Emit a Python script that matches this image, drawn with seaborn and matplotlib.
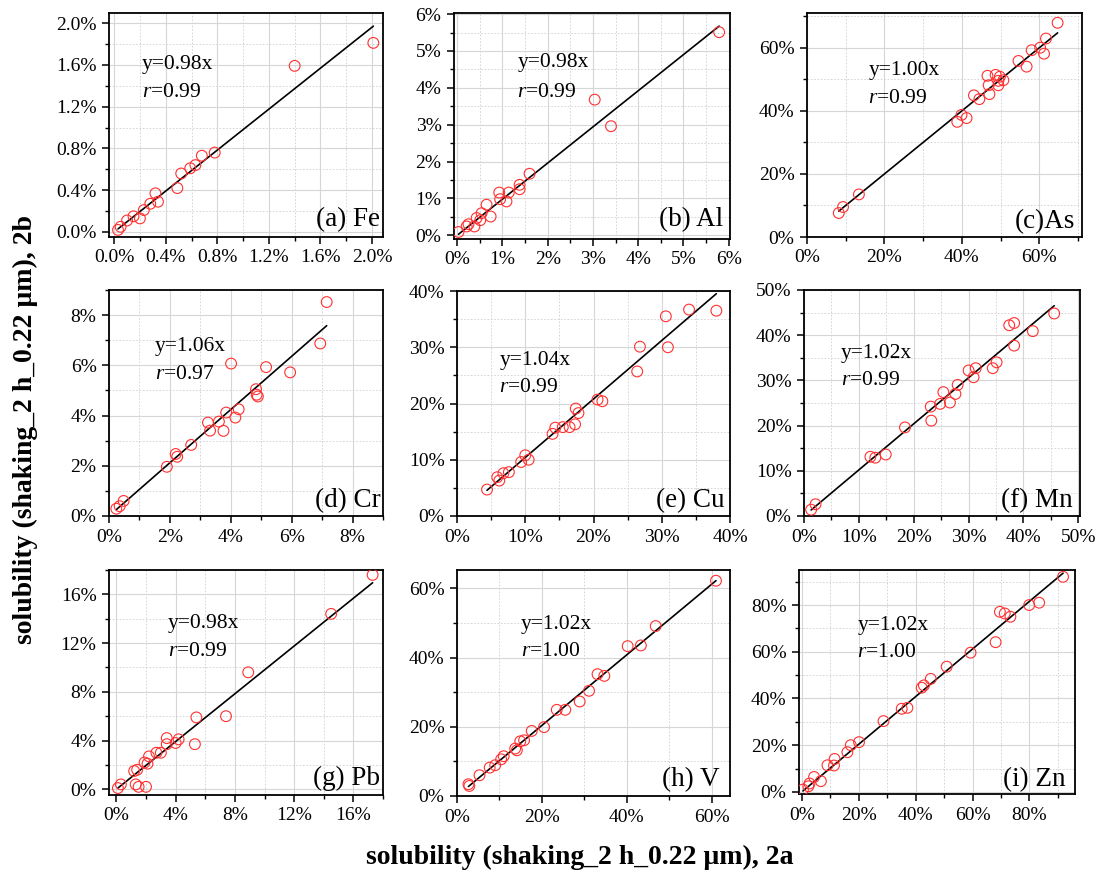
import numpy as np
import pandas as pd
import seaborn as sns
import matplotlib.pyplot as plt
from matplotlib.ticker import MultipleLocator, PercentFormatter

# solubility values (%), 2a on x, 2b on y
fe_x = [0.03, 0.05, 0.10, 0.15, 0.20, 0.23, 0.28, 0.32, 0.34, 0.49, 0.52, 0.59, 0.63, 0.68, 0.78, 1.40, 2.01]
fe_y = [0.02, 0.05, 0.11, 0.15, 0.13, 0.21, 0.27, 0.37, 0.29, 0.42, 0.56, 0.61, 0.64, 0.73, 0.76, 1.59, 1.81]

al_x = [0.03, 0.21, 0.25, 0.38, 0.43, 0.51, 0.54, 0.65, 0.74, 0.93, 0.95, 1.09, 1.14, 1.38, 1.38, 1.60, 3.04, 3.40, 5.79]
al_y = [0.09, 0.24, 0.30, 0.24, 0.47, 0.41, 0.60, 0.83, 0.51, 1.16, 0.98, 0.92, 1.16, 1.37, 1.25, 1.67, 3.68, 2.96, 5.51]

as_x = [8.2, 9.3, 13.4, 38.8, 39.9, 41.2, 43.1, 44.5, 46.6, 46.9, 47.1, 48.7, 49.4, 49.8, 50.7, 49.4,
        54.6, 56.7, 58.0, 60.2, 61.2, 61.7, 64.7]
as_y = [7.6, 9.5, 13.5, 36.5, 38.7, 37.7, 44.9, 43.7, 51.1, 48.1, 45.3, 51.4, 49.5, 50.8, 49.7, 48.1,
        55.8, 54.0, 59.2, 60.0, 58.1, 62.9, 67.9]

cr_x = [0.24, 0.35, 0.48, 1.90, 2.19, 2.24, 2.70, 3.25, 3.32, 3.61, 3.76, 3.85, 4.01, 4.15, 4.26,
        4.83, 4.85, 4.89, 5.16, 5.95, 6.94, 7.15]
cr_y = [0.29, 0.39, 0.60, 1.96, 2.47, 2.36, 2.83, 3.72, 3.40, 3.76, 3.39, 4.12, 6.07, 3.92, 4.25,
        5.05, 4.83, 4.76, 5.93, 5.72, 6.87, 8.52]

cu_x = [4.4, 5.9, 6.2, 6.8, 7.6, 9.4, 10.0, 10.5, 14.0, 14.4, 15.5, 16.5, 17.3, 17.4, 17.8, 20.6, 21.3,
        26.4, 26.8, 30.6, 30.9, 34.0, 38.0]
cu_y = [4.7, 6.9, 6.3, 7.6, 7.8, 9.6, 10.8, 10.0, 14.6, 15.7, 15.8, 15.8, 16.3, 19.1, 18.3, 20.7, 20.4,
        25.7, 30.1, 35.5, 30.0, 36.7, 36.5]

mn_x = [1.3, 2.1, 12.1, 13.0, 14.9, 18.4, 23.2, 23.1, 24.8, 25.4, 26.6, 27.6, 28.0, 30.0, 30.9, 31.3,
        34.4, 35.1, 37.4, 38.3, 38.3, 41.7, 45.6]
mn_y = [1.4, 2.6, 13.1, 12.9, 13.6, 19.6, 21.1, 24.2, 24.8, 27.4, 25.1, 27.0, 29.0, 32.2, 30.7, 32.7,
        32.7, 34.0, 42.2, 42.7, 37.7, 40.9, 44.8]

pb_x = [0.1, 0.3, 1.2, 1.4, 1.3, 1.5, 2.0, 1.9, 2.1, 2.2, 2.7, 3.0, 3.4, 3.4, 4.0, 4.2, 5.3, 5.4, 7.4,
        8.9, 14.5, 17.3]
pb_y = [0.1, 0.4, 1.5, 1.6, 0.4, 0.2, 0.2, 2.2, 2.1, 2.7, 3.0, 3.0, 4.2, 3.7, 3.8, 4.1, 3.7, 5.9, 6.0,
        9.6, 14.4, 17.6]

v_x = [2.7, 2.9, 5.3, 7.7, 9.0, 10.4, 11.0, 13.7, 14.1, 14.9, 15.8, 17.6, 20.5, 23.5, 25.5, 28.9, 31.1,
       33.1, 34.7, 40.2, 43.3, 46.8, 61.0]
v_y = [3.4, 2.9, 6.0, 8.2, 8.9, 10.6, 11.5, 13.7, 13.2, 15.8, 16.1, 18.8, 19.9, 24.9, 24.9, 27.3, 30.4,
       35.2, 34.7, 43.3, 43.5, 49.1, 62.2]

zn_x = [0.4, 2.3, 2.7, 4.3, 6.7, 9.0, 11.3, 11.5, 16.0, 17.2, 20.1, 28.7, 35.1, 37.1, 42.1, 42.9, 45.3,
        50.9, 59.3, 68.1, 69.6, 71.3, 73.3, 79.9, 83.4, 91.8]
zn_y = [1.0, 2.4, 3.6, 6.4, 4.6, 11.4, 11.3, 14.1, 17.0, 20.0, 21.3, 30.3, 35.6, 36.0, 44.6, 45.6, 48.4,
        53.6, 59.6, 64.1, 77.1, 76.4, 75.0, 80.0, 81.0, 92.1]

labels = ["(a) Fe", "(b) Al", "(c)As", "(d) Cr", "(e) Cu", "(f) Mn", "(g) Pb", "(h) V", "(i) Zn"]
slopes = [0.98, 0.98, 1.00, 1.06, 1.04, 1.02, 0.98, 1.02, 1.02]
r_vals = [0.99, 0.99, 0.99, 0.97, 0.99, 0.99, 0.99, 1.00, 1.00]
xs = [fe_x, al_x, as_x, cr_x, cu_x, mn_x, pb_x, v_x, zn_x]
ys = [fe_y, al_y, as_y, cr_y, cu_y, mn_y, pb_y, v_y, zn_y]

# layout (pixels: left, top, right, bottom), limits, tick steps, text spots
W, H = 1105, 877
boxes = [(109, 13, 383, 237), (454, 13, 730, 239), (807, 13, 1082, 237),
         (109, 290, 383, 516), (457, 291, 730, 516), (804, 290, 1080, 516),
         (109, 570, 383, 795), (457, 570, 730, 796), (799, 570, 1075, 794)]
xlims = [(-0.04, 2.085), (-0.07, 6.03), (0, 71), (0, 9), (0, 40), (0, 50.3), (-0.5, 18), (0, 64.3), (-1, 96)]
ylims = [(-0.048, 2.096), (-0.1, 6.03), (0, 71), (0, 9), (0, 40), (0, 50), (-0.47, 18), (0, 65.3), (-0.9, 95)]
steps = [0.4, 1, 20, 2, 10, 10, 4, 20, 20]
decs = [1, 0, 0, 0, 0, 0, 0, 0, 0]
eq_pos = [(0.12, 0.77, 0.645), (0.23, 0.78, 0.65), (0.223, 0.745, 0.62),
          (0.168, 0.75, 0.624), (0.155, 0.693, 0.572), (0.133, 0.72, 0.60),
          (0.216, 0.763, 0.637), (0.233, 0.757, 0.638), (0.211, 0.754, 0.63)]
lab_pos = [(0.99, 0.076), (0.975, 0.084), (0.975, 0.068), (0.99, 0.07), (0.98, 0.068),
           (0.975, 0.068), (0.99, 0.074), (0.963, 0.074), (0.964, 0.0625)]

sns.set_style("ticks")
plt.rcParams['font.family'] = ['Liberation Serif', 'DejaVu Serif']
plt.rcParams['mathtext.fontset'] = 'custom'
plt.rcParams['mathtext.rm'] = 'Liberation Serif'
plt.rcParams['mathtext.it'] = 'Liberation Serif:italic'
# seaborn greys the text; the original is plain black
plt.rcParams['text.color'] = 'black'
plt.rcParams['xtick.color'] = 'black'
plt.rcParams['ytick.color'] = 'black'
plt.rcParams['axes.labelcolor'] = 'black'

fig = plt.figure(figsize=(W / 100, H / 100), dpi=100)

for i in range(9):
    l, t, r, b = boxes[i]
    ax = fig.add_axes([l / W, 1 - b / H, (r - l) / W, (b - t) / H])
    df = pd.DataFrame({"x": xs[i], "y": ys[i]})
    lx = np.array([df.x.min(), df.x.max()])
    sns.lineplot(x=lx, y=slopes[i] * lx, ax=ax, color="black", lw=1.2, zorder=2)
    sns.scatterplot(data=df, x="x", y="y", ax=ax, s=60, facecolor="none",
                    edgecolor="#ff3030", linewidth=0.8, zorder=3)
    ax.set_xlim(*xlims[i])
    ax.set_ylim(*ylims[i])
    for axis in (ax.xaxis, ax.yaxis):
        axis.set_major_locator(MultipleLocator(steps[i]))
        axis.set_minor_locator(MultipleLocator(steps[i] / 2))
        axis.set_major_formatter(PercentFormatter(100, decimals=decs[i]))
    ax.grid(which="major", color="#d6d6d6", lw=0.8, ls="-")
    ax.grid(which="minor", color="#cfcfcf", lw=0.6, ls=(0, (2, 2)))
    ax.set_axisbelow(True)
    ax.tick_params(which="major", direction="out", length=5, width=1.1, labelsize=14, pad=4,
                   colors="black")
    ax.tick_params(which="minor", direction="out", length=3, width=1.0, colors="black")
    for sp in ax.spines.values():
        sp.set_linewidth(1.3)
        sp.set_color("black")
    ax.set_xlabel("")
    ax.set_ylabel("")
    ex, ey1, ey2 = eq_pos[i]
    ax.text(ex, ey1, f"y={slopes[i]:.2f}x", transform=ax.transAxes, fontsize=15.5, va="center", ha="left")
    ax.text(ex, ey2, f"$r$={r_vals[i]:.2f}", transform=ax.transAxes, fontsize=15.5, va="center", ha="left")
    px, py = lab_pos[i]
    ax.text(px, py, labels[i], transform=ax.transAxes, fontsize=19.5, va="center", ha="right")

fig.text(580 / W, 1 - 857 / H, "solubility (shaking_2 h_0.22 μm), 2a", fontsize=20,
         fontweight="bold", ha="center", va="center")
fig.text(25 / W, 1 - 430 / H, "solubility (shaking_2 h_0.22 μm), 2b", fontsize=20,
         fontweight="bold", ha="center", va="center", rotation=90)

fig.savefig("out.png", dpi=100)
